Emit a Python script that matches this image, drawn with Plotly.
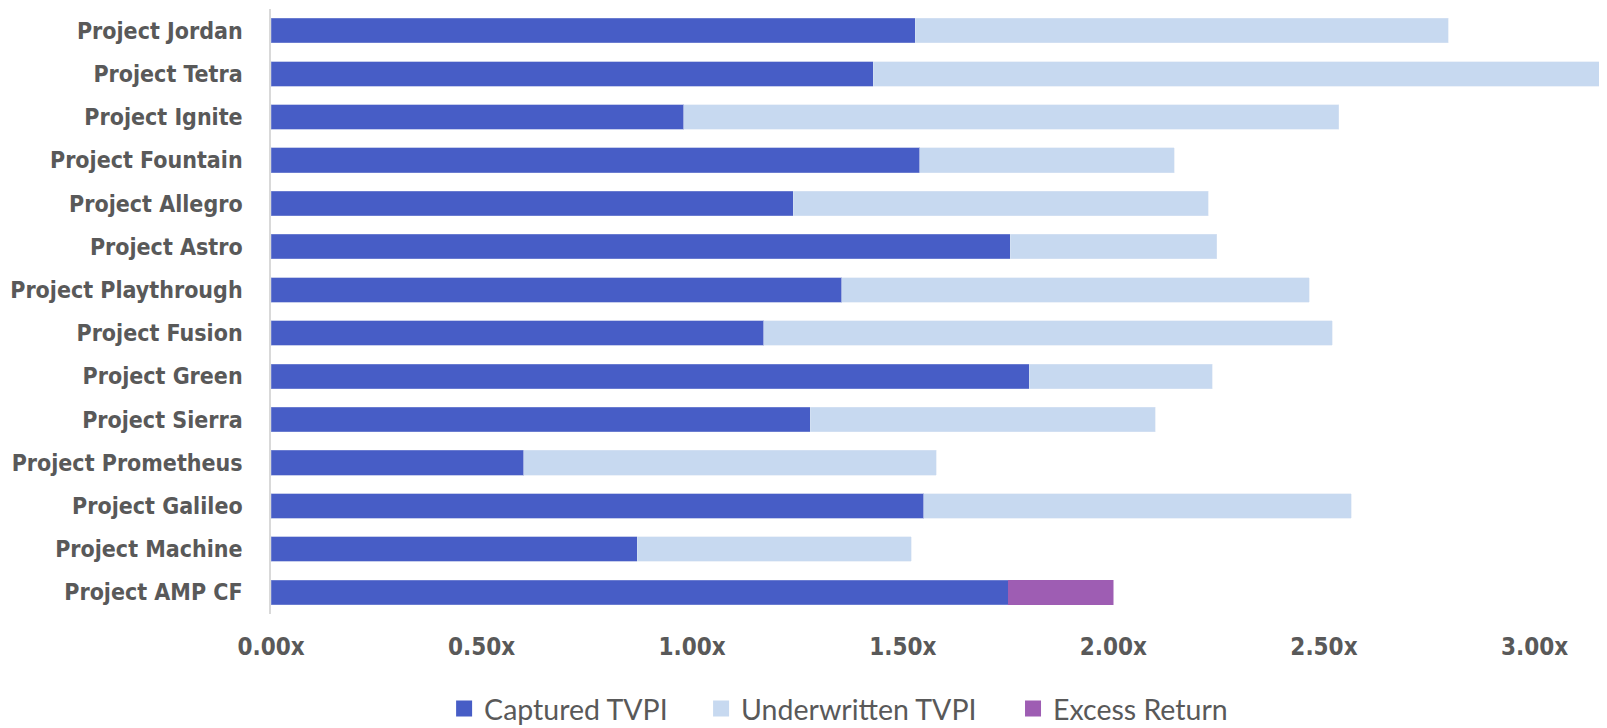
import plotly.graph_objects as go

projects = [
    "Project Jordan", "Project Tetra", "Project Ignite", "Project Fountain",
    "Project Allegro", "Project Astro", "Project Playthrough", "Project Fusion",
    "Project Green", "Project Sierra", "Project Prometheus", "Project Galileo",
    "Project Machine", "Project AMP CF",
]
captured_tvpi = [1.53, 1.43, 0.98, 1.54, 1.24, 1.755, 1.355, 1.17, 1.80, 1.28, 0.60, 1.55, 0.87, 1.75]
underwritten_tvpi = [2.795, 3.25, 2.535, 2.145, 2.225, 2.245, 2.465, 2.52, 2.235, 2.10, 1.58, 2.565, 1.52, None]
excess_return = [None] * 13 + [0.25]

tick_vals = [0, 0.5, 1.0, 1.5, 2.0, 2.5, 3.0]
tick_text = ["0.00x", "0.50x", "1.00x", "1.50x", "2.00x", "2.50x", "3.00x"]

# underwritten is drawn as the remainder on top of captured
underwritten_rest = [
    (u - c) if u is not None else None
    for u, c in zip(underwritten_tvpi, captured_tvpi)
]

axis_font = "DejaVu Sans Condensed, Liberation Sans Narrow, sans-serif"
legend_font = "Lato, Noto Sans, sans-serif"
grey = "#595959"

series = [
    ("Captured TVPI", captured_tvpi, "#475DC6", "#8E9BDA", "legend"),
    ("Underwritten TVPI", underwritten_rest, "#C7D9F0", "#DCE6F4", "legend2"),
    ("Excess Return", excess_return, "#9E5DB3", "#9E5DB3", "legend3"),
]

fig = go.Figure()

for name, vals, color, edge, leg in series:
    fig.add_trace(go.Bar(
        y=projects, x=vals, orientation="h",
        name=name, showlegend=False,
        marker=dict(color=color, line=dict(color=edge, width=0.5)),
    ))
    # legend swatch (bigger square than the default bar symbol)
    fig.add_trace(go.Scatter(
        x=[None], y=[None], mode="markers", name=name, legend=leg,
        marker=dict(symbol="square", size=16, color=color),
    ))

legend_common = dict(
    orientation="h",
    xanchor="left",
    y=-0.157, yanchor="middle",
    font=dict(family=legend_font, size=28.5, color=grey),
    itemwidth=30,
    bgcolor="rgba(0,0,0,0)",
)

fig.update_layout(
    width=1607, height=728,
    barmode="stack",
    bargap=0.43,
    plot_bgcolor="white",
    paper_bgcolor="white",
    margin=dict(l=263, r=0, t=1, b=122, autoexpand=False),
    showlegend=True,
    legend=dict(x=0.1288, **legend_common),
    legend2=dict(x=0.3200, **legend_common),
    legend3=dict(x=0.5521, **legend_common),
    xaxis=dict(
        range=[0, 3.191],
        tickvals=tick_vals,
        ticktext=tick_text,
        showgrid=False,
        zeroline=False,
        showline=False,
        ticks="",
        automargin=False,
        ticklabelstandoff=16,
        tickfont=dict(family=axis_font, size=24, color=grey, weight="bold"),
    ),
    yaxis=dict(
        autorange="reversed",
        showgrid=False,
        zeroline=False,
        showline=True,
        linecolor="#D9D9D9",
        linewidth=1.5,
        ticks="",
        automargin=False,
        ticklabelstandoff=22,
        tickfont=dict(family=axis_font, size=23, color=grey, weight="bold"),
    ),
)

fig.write_html("out.html")
